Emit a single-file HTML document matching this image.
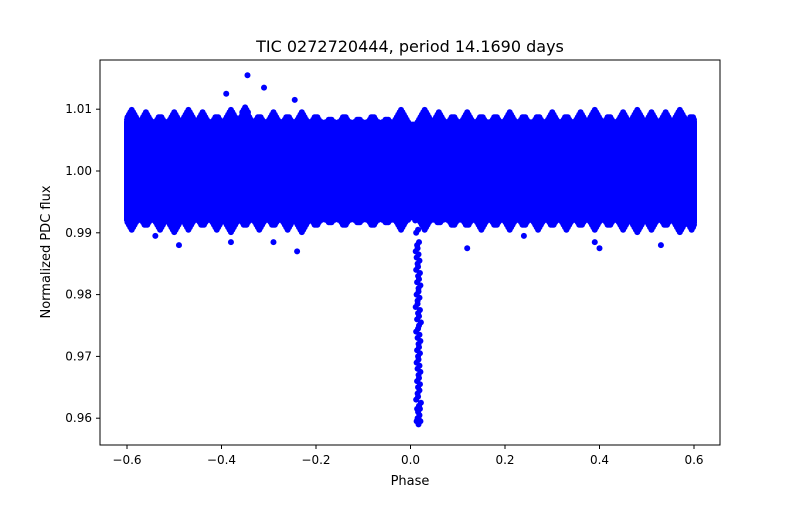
<!DOCTYPE html>
<html><head><meta charset="utf-8"><style>
body{margin:0;background:#fff}
text{font-family:"DejaVu Sans","Liberation Sans",sans-serif;fill:#000}
</style></head><body>
<svg id="chart" width="800" height="500" viewBox="0 0 800 500" xmlns="http://www.w3.org/2000/svg">
<rect width="800" height="500" fill="#fff"/>
<text x="410" y="52" font-size="16" text-anchor="middle">TIC 0272720444, period 14.1690 days</text>
<g id="marks"></g>
<g id="axes"></g>
<rect x="100" y="60" width="620" height="385" fill="none" stroke="#000" stroke-width="1"/>
<text x="410" y="485" font-size="13" text-anchor="middle">Phase</text>
<text transform="translate(50,252) rotate(-90)" font-size="13" text-anchor="middle">Normalized PDC flux</text>
</svg>
<script>
const xTicks=[-0.6,-0.4,-0.2,0.0,0.2,0.4,0.6];
const xTickLabels=["\u22120.6","\u22120.4","\u22120.2","0.0","0.2","0.4","0.6"];
const yTicks=[0.96,0.97,0.98,0.99,1.00,1.01];
const yTickLabels=["0.96","0.97","0.98","0.99","1.00","1.01"];
const bandPhase=[-0.6,0.6];
const bandFlux=[0.9925,1.0075];
const edgePhase=[-0.59,-0.56,-0.53,-0.5,-0.47,-0.44,-0.41,-0.38,-0.35,-0.32,-0.29,-0.26,-0.23,-0.2,-0.17,-0.14,-0.11,-0.08,-0.05,-0.02,0.03,0.06,0.09,0.12,0.15,0.18,0.21,0.24,0.27,0.3,0.33,0.36,0.39,0.42,0.45,0.48,0.51,0.54,0.57,0.595];
const edgeTop=[1.010,1.0095,1.009,1.0095,1.010,1.0095,1.009,1.010,1.0105,1.009,1.0095,1.009,1.0095,1.009,1.0085,1.009,1.0085,1.009,1.0085,1.010,1.010,1.0095,1.009,1.0095,1.009,1.009,1.0095,1.009,1.009,1.0095,1.009,1.0095,1.010,1.009,1.0095,1.010,1.0095,1.0095,1.010,1.009];
const edgeBot=[0.9905,0.991,0.9905,0.990,0.9905,0.991,0.9905,0.990,0.991,0.9905,0.991,0.9905,0.990,0.991,0.9915,0.991,0.9915,0.991,0.9915,0.9905,0.9905,0.9915,0.991,0.991,0.9905,0.991,0.9905,0.991,0.9905,0.991,0.9905,0.991,0.9905,0.991,0.9905,0.990,0.9905,0.991,0.990,0.9905];
const outPhase=[-0.345,-0.39,-0.31,-0.245,-0.24,-0.29,-0.38,-0.49,-0.54,0.24,0.4,0.39,0.53,0.12];
const outFlux=[1.0155,1.0125,1.0135,1.0115,0.9870,0.9885,0.9885,0.9880,0.9895,0.9895,0.9875,0.9885,0.9880,0.9875];
const transitPhase=[0.005,0.008,0.01,0.012,0.014,0.011,0.013,0.015,0.012,0.016,0.014,0.017,0.013,0.015,0.011,0.016,0.014,0.018,0.012,0.015,0.017,0.014,0.016,0.013,0.015,0.017,0.014,0.016,0.015,0.012,0.018,0.014,0.016,0.015,0.013,0.017];
const transitFlux=[0.996,0.994,0.992,0.990,0.988,0.987,0.986,0.985,0.984,0.983,0.982,0.981,0.980,0.979,0.978,0.977,0.976,0.975,0.974,0.973,0.972,0.971,0.970,0.969,0.968,0.967,0.966,0.965,0.964,0.963,0.962,0.9615,0.961,0.960,0.9595,0.959];
const x0=100,x1=720,y0=60,y1=445;
function sx(v){return 410.5+v*472.5;}
function sy(v){return 171-(v-1.0)*6180;}
const NS="http://www.w3.org/2000/svg";
const marks=document.getElementById('marks'),axes=document.getElementById('axes');
function mk(tag,at,parent){const e=document.createElementNS(NS,tag);for(const k in at)e.setAttribute(k,at[k]);parent.appendChild(e);return e;}
const band=mk('rect',{x:sx(bandPhase[0])-3,y:sy(bandFlux[1])-3,width:sx(bandPhase[1])-sx(bandPhase[0])+6,height:sy(bandFlux[0])-sy(bandFlux[1])+6,fill:'#0000ff'},marks);


function dot(p,f,name){const c=mk('circle',{cx:sx(p),cy:sy(f),r:3,fill:'#0000ff'},marks);

}
for(let i=0;i<edgePhase.length;i++){
 const a=edgePhase[i];
 for(let d=-0.015;d<=0.0151;d+=0.003){
  const p=Math.max(-0.6,Math.min(0.6,a+d));
  const k=Math.abs(d)/0.015;
  const ft=edgeTop[i]-(edgeTop[i]-1.0075)*k*0.8;
  const fb=edgeBot[i]+(0.9925-edgeBot[i])*k*0.8;
  for(let f=1.0075;f<=ft;f+=0.0004)dot(p,f,'edge-point');
  for(let f=0.9925;f>=fb;f-=0.0004)dot(p,f,'edge-point');
 }
}
for(let i=0;i<outPhase.length;i++)dot(outPhase[i],outFlux[i],'outlier-point');
for(let i=0;i<transitPhase.length;i++){dot(transitPhase[i],transitFlux[i],'transit-point');dot(transitPhase[i]+0.004,transitFlux[i]+0.0005,'transit-point');}
xTicks.forEach((t,i)=>{const x=sx(t);
 const l=mk('line',{x1:x,x2:x,y1:y1,y2:y1+4,stroke:'#000'},axes);
 
 
 const tx=mk('text',{x:x,y:y1+19,'font-size':12,'text-anchor':'middle'},axes);tx.textContent=xTickLabels[i];
 
 });
yTicks.forEach((t,i)=>{const y=sy(t);
 const l=mk('line',{x1:x0-4,x2:x0,y1:y,y2:y,stroke:'#000'},axes);
 
 
 const tx=mk('text',{x:x0-8,y:y+4,'font-size':12,'text-anchor':'end'},axes);tx.textContent=yTickLabels[i];
 
 });
</script>
</body></html>
